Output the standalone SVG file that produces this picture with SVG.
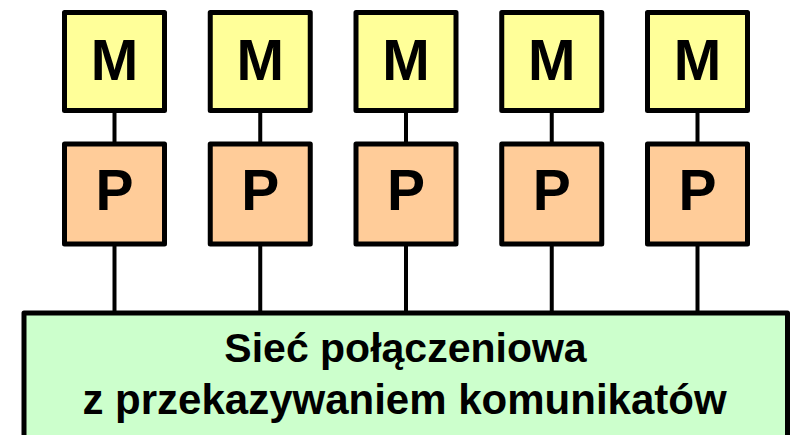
<svg xmlns="http://www.w3.org/2000/svg" width="793" height="435" viewBox="0 0 793 435">
<style>
.box{stroke:#000;stroke-width:5;stroke-linejoin:round}
.m{fill:#FFFF99}
.p{fill:#FFCC99}
.net{fill:#CCFFCC}
.lbl{font-family:"Liberation Sans",Arial,sans-serif;font-weight:bold;fill:#000;text-anchor:middle}
.big{font-size:57px}
.conn line{stroke:#000;stroke-width:4}
</style>
<rect width="793" height="435" fill="#fff"/>
<g class="conn">
<line x1="114.5" y1="110" x2="114.5" y2="144"/>
<line x1="260.25" y1="110" x2="260.25" y2="144"/>
<line x1="406" y1="110" x2="406" y2="144"/>
<line x1="551.75" y1="110" x2="551.75" y2="144"/>
<line x1="697.5" y1="110" x2="697.5" y2="144"/>
<line x1="114.5" y1="244" x2="114.5" y2="313"/>
<line x1="260.25" y1="244" x2="260.25" y2="313"/>
<line x1="406" y1="244" x2="406" y2="313"/>
<line x1="551.75" y1="244" x2="551.75" y2="313"/>
<line x1="697.5" y1="244" x2="697.5" y2="313"/>
</g>
<g id="m1"><rect class="box m" x="64.5" y="12.5" width="100" height="98"/><text class="lbl big" x="114.5" y="80">M</text></g>
<g id="m2"><rect class="box m" x="210.25" y="12.5" width="100" height="98"/><text class="lbl big" x="260.25" y="80">M</text></g>
<g id="m3"><rect class="box m" x="356" y="12.5" width="100" height="98"/><text class="lbl big" x="406" y="80">M</text></g>
<g id="m4"><rect class="box m" x="501.75" y="12.5" width="100" height="98"/><text class="lbl big" x="551.75" y="80">M</text></g>
<g id="m5"><rect class="box m" x="647.5" y="12.5" width="100" height="98"/><text class="lbl big" x="697.5" y="80">M</text></g>
<g id="p1"><rect class="box p" x="64.5" y="144" width="100" height="100"/><text class="lbl big" x="114.5" y="210">P</text></g>
<g id="p2"><rect class="box p" x="210.25" y="144" width="100" height="100"/><text class="lbl big" x="260.25" y="210">P</text></g>
<g id="p3"><rect class="box p" x="356" y="144" width="100" height="100"/><text class="lbl big" x="406" y="210">P</text></g>
<g id="p4"><rect class="box p" x="501.75" y="144" width="100" height="100"/><text class="lbl big" x="551.75" y="210">P</text></g>
<g id="p5"><rect class="box p" x="647.5" y="144" width="100" height="100"/><text class="lbl big" x="697.5" y="210">P</text></g>
<g id="net">
<rect class="box net" x="24" y="313" width="763.5" height="140"/>
<text class="lbl" x="405.5" y="362" font-size="41">Sieć połączeniowa</text>
<text class="lbl" x="404.5" y="414" font-size="42">z przekazywaniem komunikatów</text>
</g>
</svg>
